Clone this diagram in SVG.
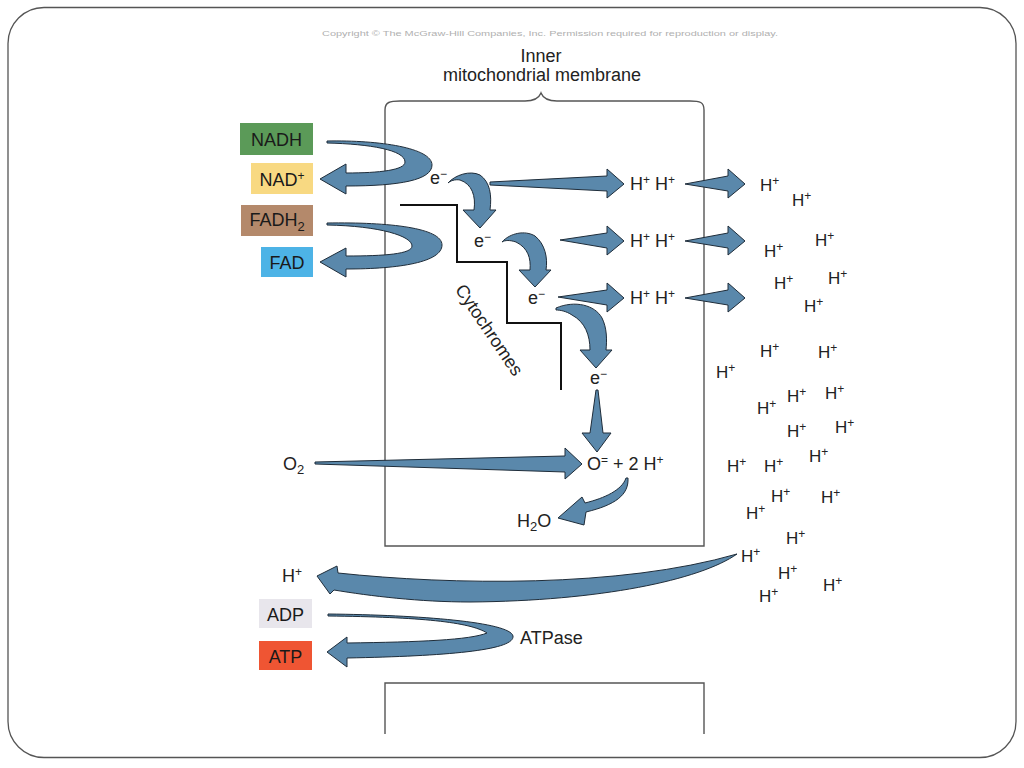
<svg xmlns="http://www.w3.org/2000/svg" width="1024" height="768" viewBox="0 0 1024 768">
<style>
text{font-family:"Liberation Sans",Arial,sans-serif;fill:#222;font-size:18px}
.lbl{text-anchor:middle;fill:#1a1a1a}
.hp{font-size:17px}
.arr{fill:#5a88ab;stroke:#1f2d3a;stroke-width:1;stroke-linejoin:miter}
.mem{fill:none;stroke:#555;stroke-width:1.4}
.stair{fill:none;stroke:#111;stroke-width:2}
</style>
<rect x="8" y="7.5" width="1008" height="750" rx="36" ry="36" fill="#fff" stroke="#555" stroke-width="1.3"/>
<text x="322" y="36" style="fill:#b0b0b0;font-size:7px" textLength="456" lengthAdjust="spacingAndGlyphs">Copyright © The McGraw-Hill Companies, Inc. Permission required for reproduction or display.</text>

<g id="membrane">
<text x="541" y="62" text-anchor="middle">Inner</text>
<text x="542" y="81" text-anchor="middle">mitochondrial membrane</text>
<path class="mem" d="M385 110 C385 102 390 101 400 101 L525 101 C535 101 539 98 541 93 C543 98 547 101 557 101 L690 101 C700 101 704 102 704 110"/>
<path class="mem" d="M385 110 L385 546 L704 546 L704 110"/>
<path class="mem" d="M385 734 L385 683 L704 683 L704 734"/>
</g>

<g id="nadh"><rect x="240" y="123" width="73" height="32" fill="#5b9a58"/><text class="lbl" x="276.5" y="145.5">NADH</text></g>
<g id="nad"><rect x="251" y="163" width="62" height="31" fill="#f8d982"/><text class="lbl" x="282" y="185.5">NAD<tspan dy="-6" font-size="12">+</tspan></text></g>
<g id="fadh2"><rect x="241" y="205" width="72" height="31" fill="#b4896b"/><text class="lbl" x="277" y="226">FADH<tspan dy="5" font-size="13">2</tspan></text></g>
<g id="fad"><rect x="261" y="247" width="52" height="30" fill="#4db3e6"/><text class="lbl" x="287" y="268.5">FAD</text></g>
<g id="hplus-left"><text x="282" y="582">H<tspan dy="-6" font-size="12">+</tspan></text></g>
<g id="adp"><rect x="259" y="599" width="53" height="29" fill="#e8e6ec"/><text class="lbl" x="285.5" y="620.5">ADP</text></g>
<g id="atp"><rect x="259" y="641" width="53" height="29" fill="#ef5533"/><text class="lbl" x="285.5" y="662.5">ATP</text></g>

<g id="cytochromes">
<path class="stair" d="M400 205 L457 205 L457 262 L507 262 L507 323 L561 323 L561 390"/>
<text x="489" y="336" text-anchor="middle" transform="rotate(56 489 330)">Cytochromes</text>
</g>

<g id="electrons">
<text x="430" y="184">e<tspan dy="-6" font-size="12">−</tspan></text>
<text x="474" y="247">e<tspan dy="-6" font-size="12">−</tspan></text>
<text x="528" y="304">e<tspan dy="-6" font-size="12">−</tspan></text>
<text x="590" y="384">e<tspan dy="-6" font-size="12">−</tspan></text>
</g>

<g id="pumped">
<text x="630" y="190">H<tspan dy="-6" font-size="12">+</tspan><tspan dy="6"> H</tspan><tspan dy="-6" font-size="12">+</tspan></text>
<text x="630" y="247">H<tspan dy="-6" font-size="12">+</tspan><tspan dy="6"> H</tspan><tspan dy="-6" font-size="12">+</tspan></text>
<text x="630" y="304">H<tspan dy="-6" font-size="12">+</tspan><tspan dy="6"> H</tspan><tspan dy="-6" font-size="12">+</tspan></text>
</g>

<g id="oxygen">
<text x="283" y="470">O<tspan dy="4" font-size="13">2</tspan></text>
<text x="587" y="470">O<tspan dy="-6" font-size="12">=</tspan><tspan dy="6">  + 2 H</tspan><tspan dy="-6" font-size="12">+</tspan></text>
<text x="517" y="527">H<tspan dy="4" font-size="13">2</tspan><tspan dy="-4">O</tspan></text>
</g>

<g id="atpase-label"><text x="520" y="644">ATPase</text></g>

<g id="intermembrane-protons">
<text class="hp" x="760" y="191">H<tspan dy="-6" font-size="12">+</tspan></text>
<text class="hp" x="792" y="206">H<tspan dy="-6" font-size="12">+</tspan></text>
<text class="hp" x="815" y="246">H<tspan dy="-6" font-size="12">+</tspan></text>
<text class="hp" x="764" y="257">H<tspan dy="-6" font-size="12">+</tspan></text>
<text class="hp" x="828" y="284">H<tspan dy="-6" font-size="12">+</tspan></text>
<text class="hp" x="774" y="289">H<tspan dy="-6" font-size="12">+</tspan></text>
<text class="hp" x="804" y="312">H<tspan dy="-6" font-size="12">+</tspan></text>
<text class="hp" x="760" y="357">H<tspan dy="-6" font-size="12">+</tspan></text>
<text class="hp" x="818" y="358">H<tspan dy="-6" font-size="12">+</tspan></text>
<text class="hp" x="716" y="378">H<tspan dy="-6" font-size="12">+</tspan></text>
<text class="hp" x="787" y="402">H<tspan dy="-6" font-size="12">+</tspan></text>
<text class="hp" x="825" y="399">H<tspan dy="-6" font-size="12">+</tspan></text>
<text class="hp" x="757" y="414">H<tspan dy="-6" font-size="12">+</tspan></text>
<text class="hp" x="787" y="437">H<tspan dy="-6" font-size="12">+</tspan></text>
<text class="hp" x="835" y="433">H<tspan dy="-6" font-size="12">+</tspan></text>
<text class="hp" x="809" y="462">H<tspan dy="-6" font-size="12">+</tspan></text>
<text class="hp" x="727" y="472">H<tspan dy="-6" font-size="12">+</tspan></text>
<text class="hp" x="764" y="472">H<tspan dy="-6" font-size="12">+</tspan></text>
<text class="hp" x="771" y="502">H<tspan dy="-6" font-size="12">+</tspan></text>
<text class="hp" x="821" y="503">H<tspan dy="-6" font-size="12">+</tspan></text>
<text class="hp" x="746" y="519">H<tspan dy="-6" font-size="12">+</tspan></text>
<text class="hp" x="786" y="544">H<tspan dy="-6" font-size="12">+</tspan></text>
<text class="hp" x="741" y="562">H<tspan dy="-6" font-size="12">+</tspan></text>
<text class="hp" x="778" y="579">H<tspan dy="-6" font-size="12">+</tspan></text>
<text class="hp" x="823" y="591">H<tspan dy="-6" font-size="12">+</tspan></text>
<text class="hp" x="759" y="602">H<tspan dy="-6" font-size="12">+</tspan></text>
</g>

<g id="connectors">
<path class="arr" d="M327 141 C380 140 432 148 432 165 C432 180 400 186 346 186 L346 194 L320 179 L346 164 L346 173 C380 173 405 170 405 162 C405 150 370 144 327 143 Z"/>
<path class="arr" d="M327 223 C390 222 442 228 442 245 C442 262 400 269 346 269 L346 277 L320 262 L346 248 L346 256 C385 256 412 254 412 246 C412 236 380 226 327 225 Z"/>
<path class="arr" d="M448 183 C455 175 470 170 480 175 C490 182 492 195 490 210 L496 210 L480 228 L463 210 L474 210 C476 196 472 184 460 180 C455 179 450 181 448 183 Z"/>
<path class="arr" d="M502 242 C510 233 525 230 535 236 C545 244 548 258 546 270 L551 270 L535 287 L519 270 L530 270 C531 258 528 248 516 242 C510 240 505 240 502 242 Z"/>
<path class="arr" d="M556 308 C575 300 595 305 602 318 C607 328 607 340 606 350 L612 350 L596 368 L580 350 L590 350 C590 335 585 322 572 315 C566 311 560 310 556 310 Z"/>
<path class="arr" d="M596 390 L598 390 L603 433 L611 433 L597 452 L582 433 L590 433 Z"/>
<path class="arr" d="M490 182 L607 176 L607 169 L624 184 L607 198 L607 191 L490 185 Z"/>
<path class="arr" d="M685 184 L728 176 L728 169 L745 184 L728 198 L728 191 Z"/>
<path class="arr" d="M560 240 L607 233 L607 226 L624 241 L607 255 L607 248 Z"/>
<path class="arr" d="M685 241 L728 233 L728 226 L745 241 L728 255 L728 248 Z"/>
<path class="arr" d="M558 297 L607 290 L607 283 L624 298 L607 312 L607 305 Z"/>
<path class="arr" d="M685 298 L728 290 L728 283 L745 298 L728 312 L728 305 Z"/>
<path class="arr" d="M315 462 L565 456 L565 448 L582 464 L565 479 L565 472 L315 464 Z"/>
<path class="arr" d="M628 478 C629 495 615 505 586 512 L584 525 L558 518 L582 497 L585 503 C605 498 622 490 626 478 Z"/>
<path class="arr" d="M737 554 C700 580 600 601 470 602 C420 602 370 596 334 590 L330 594 L317 576 L337 566 L338 573 C450 585 620 588 737 554 Z"/>
<path class="arr" d="M328 614 C420 615 510 622 513 636 C515 650 450 656 347 658 L347 667 L327 652 L347 637 L347 643 C420 642 470 640 487 633 C470 622 420 617 328 616 Z"/>
</g>
</svg>
